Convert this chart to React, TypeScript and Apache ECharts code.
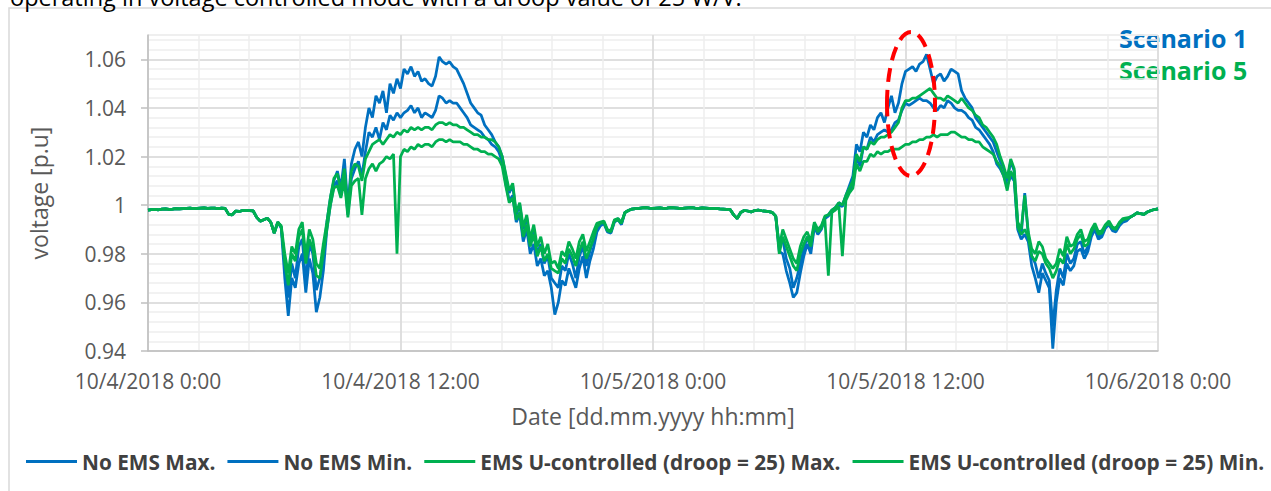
import React, { useEffect, useRef } from "react";
import * as echarts from "echarts";

// x grid: hours since 10/4/2018 0:00, sampled every 10 minutes (289 samples)
const HOURS: number[] = Array.from({ length: 289 }, (_, i) => i / 6);

const X_TICK_LABELS = ["10/4/2018 0:00", "10/4/2018 12:00", "10/5/2018 0:00", "10/5/2018 12:00", "10/6/2018 0:00"];

const SERIES_NAMES = [
  "No EMS Max.",
  "No EMS Min.",
  "EMS U-controlled (droop = 25) Max.",
  "EMS U-controlled (droop = 25) Min.",
];

// each line = 2 hours (12 samples)
const NO_EMS_MAX = [
  0.998, 0.9982, 0.9983, 0.9981, 0.9984, 0.9985, 0.9983, 0.9984, 0.9986, 0.9985, 0.9986, 0.9987,
  0.9988, 0.9986, 0.9987, 0.9988, 0.9989, 0.9987, 0.9988, 0.9988, 0.9986, 0.9988, 0.9987, 0.9962,
  0.996, 0.9976, 0.9974, 0.9978, 0.9979, 0.9977, 0.9976, 0.995, 0.9934, 0.994, 0.9946, 0.993,
  0.9885, 0.993, 0.991, 0.976, 0.962, 0.976, 0.97, 0.983, 0.986, 0.968, 0.984, 0.98,
  0.965, 0.97, 0.979, 0.993, 1.003, 1.01, 1.014, 1.007, 1.019, 0.999, 1.017, 1.023,
  1.026, 1.02, 1.032, 1.04, 1.036, 1.045, 1.042, 1.047, 1.038, 1.05, 1.046, 1.052,
  1.048, 1.056, 1.054, 1.057, 1.053, 1.055, 1.051, 1.052, 1.05, 1.049, 1.053, 1.061,
  1.059, 1.058, 1.059, 1.057, 1.056, 1.053, 1.05, 1.046, 1.042, 1.04, 1.038, 1.037,
  1.033, 1.031, 1.029, 1.026, 1.024, 1.02, 1.012, 1.005, 1.008, 0.996, 1.0, 0.99,
  0.995, 0.984, 0.99, 0.98, 0.984, 0.976, 0.979, 0.97, 0.968, 0.966, 0.975, 0.973,
  0.98, 0.976, 0.97, 0.979, 0.983, 0.975, 0.981, 0.986, 0.991, 0.9925, 0.993, 0.9895,
  0.989, 0.9935, 0.9945, 0.9925, 0.997, 0.9978, 0.9984, 0.9986, 0.9987, 0.9989, 0.999, 0.9988,
  0.9987, 0.9988, 0.9989, 0.9987, 0.9988, 0.999, 0.9989, 0.9988, 0.9986, 0.9988, 0.9989, 0.999,
  0.9988, 0.9987, 0.9989, 0.9988, 0.9987, 0.9986, 0.9987, 0.9985, 0.9984, 0.9983, 0.9982, 0.996,
  0.9945, 0.997, 0.9978, 0.9976, 0.9972, 0.9978, 0.998, 0.9977, 0.9975, 0.9973, 0.997, 0.9955,
  0.983, 0.986, 0.978, 0.974, 0.966, 0.97, 0.976, 0.982, 0.987, 0.982, 0.992, 0.989,
  0.991, 0.995, 0.996, 0.998, 0.999, 1.001, 1.0, 1.004, 1.008, 1.012, 1.025, 1.022,
  1.03, 1.028, 1.033, 1.031, 1.036, 1.038, 1.034, 1.04, 1.045, 1.038, 1.042, 1.05,
  1.055, 1.056, 1.057, 1.055, 1.058, 1.059, 1.062, 1.056, 1.05, 1.053, 1.054, 1.051,
  1.053, 1.056, 1.055, 1.054, 1.047, 1.044, 1.042, 1.04, 1.036, 1.034, 1.032, 1.03,
  1.028, 1.026, 1.022, 1.018, 1.015, 1.01, 1.018, 1.014, 0.992, 0.988, 1.005, 0.988,
  0.979, 0.976, 0.97, 0.976, 0.972, 0.969, 0.95, 0.965, 0.974, 0.97, 0.98, 0.976,
  0.978, 0.984, 0.985, 0.98, 0.983, 0.988, 0.991, 0.987, 0.988, 0.991, 0.9925, 0.99,
  0.9895, 0.992, 0.9935, 0.994, 0.995, 0.9958, 0.9968, 0.9965, 0.9962, 0.9972, 0.9978, 0.9982,
  0.9985,
];

const NO_EMS_MIN = [
  0.998, 0.9982, 0.9983, 0.9981, 0.9984, 0.9985, 0.9983, 0.9984, 0.9986, 0.9985, 0.9986, 0.9987,
  0.9988, 0.9986, 0.9987, 0.9988, 0.9989, 0.9987, 0.9988, 0.9988, 0.9986, 0.9988, 0.9987, 0.9962,
  0.996, 0.9976, 0.9974, 0.9978, 0.9979, 0.9977, 0.9976, 0.995, 0.9934, 0.994, 0.9946, 0.993,
  0.9885, 0.993, 0.9905, 0.97, 0.9545, 0.97, 0.966, 0.976, 0.98, 0.964, 0.978, 0.972,
  0.956, 0.962, 0.973, 0.99, 1.0, 1.008, 1.01, 1.004, 1.013, 0.996, 1.011, 1.015,
  1.018, 1.012, 1.022, 1.03, 1.028, 1.032, 1.027, 1.034, 1.031, 1.037, 1.035, 1.038,
  1.036, 1.038, 1.039, 1.041, 1.038, 1.04, 1.036, 1.038, 1.037, 1.036, 1.039, 1.045,
  1.044, 1.042, 1.043, 1.042, 1.042, 1.04, 1.038, 1.036, 1.033, 1.032, 1.031, 1.03,
  1.028, 1.027, 1.025, 1.024, 1.022, 1.018, 1.009, 1.002, 1.004, 0.993, 0.996, 0.985,
  0.99, 0.98, 0.984, 0.975, 0.978, 0.971, 0.973, 0.966, 0.955, 0.96, 0.969, 0.967,
  0.974, 0.97, 0.966, 0.974, 0.979, 0.97, 0.977, 0.982, 0.989, 0.9915, 0.9925, 0.989,
  0.9885, 0.993, 0.994, 0.992, 0.997, 0.9978, 0.9984, 0.9986, 0.9987, 0.9989, 0.999, 0.9988,
  0.9987, 0.9988, 0.9989, 0.9987, 0.9988, 0.999, 0.9989, 0.9988, 0.9986, 0.9988, 0.9989, 0.999,
  0.9988, 0.9987, 0.9989, 0.9988, 0.9987, 0.9986, 0.9987, 0.9985, 0.9984, 0.9983, 0.9982, 0.996,
  0.9945, 0.997, 0.9978, 0.9976, 0.9972, 0.9978, 0.998, 0.9977, 0.9975, 0.9973, 0.997, 0.9955,
  0.981, 0.98, 0.973, 0.968, 0.962, 0.964, 0.972, 0.979, 0.984, 0.98, 0.991, 0.988,
  0.99, 0.9945, 0.9955, 0.997, 0.9985, 1.0, 0.9995, 1.003, 1.006, 1.008, 1.02, 1.016,
  1.024, 1.023, 1.028, 1.026, 1.029, 1.03, 1.031, 1.03, 1.031, 1.034, 1.035, 1.039,
  1.042, 1.041, 1.042, 1.043, 1.044, 1.043, 1.043, 1.042, 1.04, 1.039, 1.041, 1.04,
  1.043, 1.042, 1.04, 1.039, 1.039, 1.038, 1.036, 1.035, 1.032, 1.031, 1.029, 1.027,
  1.025, 1.022, 1.017, 1.015, 1.012, 1.008, 1.012, 1.01, 0.99, 0.986, 0.988, 0.985,
  0.975, 0.97, 0.964, 0.972, 0.969, 0.966, 0.941, 0.96, 0.97, 0.967, 0.976, 0.973,
  0.975, 0.981, 0.982, 0.978, 0.981, 0.987, 0.99, 0.986, 0.987, 0.9905, 0.992, 0.9895,
  0.989, 0.9915, 0.993, 0.9935, 0.995, 0.9958, 0.9968, 0.9965, 0.9962, 0.9972, 0.9978, 0.9982,
  0.9985,
];

const EMS_MAX = [
  0.998, 0.9982, 0.9983, 0.9981, 0.9984, 0.9985, 0.9983, 0.9984, 0.9986, 0.9985, 0.9986, 0.9987,
  0.9988, 0.9986, 0.9987, 0.9988, 0.9989, 0.9987, 0.9988, 0.9988, 0.9986, 0.9988, 0.9987, 0.9962,
  0.996, 0.9976, 0.9974, 0.9978, 0.9979, 0.9977, 0.9976, 0.995, 0.9934, 0.994, 0.9946, 0.993,
  0.9885, 0.993, 0.9915, 0.98, 0.972, 0.983, 0.98, 0.99, 0.993, 0.979, 0.99, 0.986,
  0.976, 0.974, 0.984, 0.993, 1.003, 1.011, 1.013, 1.006, 1.015, 0.998, 1.014, 1.017,
  1.016, 1.01, 1.019, 1.022, 1.025, 1.026, 1.027, 1.025, 1.027, 1.029, 1.028, 1.03,
  1.029, 1.031, 1.03, 1.032, 1.031, 1.032, 1.031, 1.032, 1.032, 1.031, 1.033, 1.034,
  1.034, 1.033, 1.034, 1.033, 1.033, 1.032, 1.032, 1.031, 1.03, 1.029, 1.029, 1.028,
  1.028, 1.027, 1.027, 1.026, 1.024, 1.02, 1.013, 1.006, 1.009, 0.997, 1.001, 0.991,
  0.996, 0.986, 0.992, 0.983, 0.987, 0.98, 0.984, 0.976, 0.977, 0.974, 0.981, 0.979,
  0.985, 0.982, 0.978, 0.985, 0.988, 0.981, 0.985, 0.989, 0.9925, 0.993, 0.9935, 0.99,
  0.9895, 0.994, 0.9945, 0.993, 0.997, 0.9978, 0.9984, 0.9986, 0.9987, 0.9989, 0.999, 0.9988,
  0.9987, 0.9988, 0.9989, 0.9987, 0.9988, 0.999, 0.9989, 0.9988, 0.9986, 0.9988, 0.9989, 0.999,
  0.9988, 0.9987, 0.9989, 0.9988, 0.9987, 0.9986, 0.9987, 0.9985, 0.9984, 0.9983, 0.9982, 0.996,
  0.9945, 0.997, 0.9978, 0.9976, 0.9972, 0.9978, 0.998, 0.9977, 0.9975, 0.9973, 0.997, 0.9955,
  0.983, 0.99, 0.986, 0.982, 0.978, 0.976, 0.983, 0.987, 0.989, 0.985, 0.993, 0.99,
  0.9915, 0.9955, 0.996, 0.998, 0.999, 1.001, 1.0, 1.004, 1.007, 1.01, 1.021, 1.018,
  1.024, 1.023, 1.026, 1.025, 1.027, 1.028, 1.028, 1.029, 1.03, 1.032, 1.034, 1.04,
  1.043, 1.043, 1.044, 1.044, 1.045, 1.046, 1.047, 1.048, 1.046, 1.044, 1.044, 1.043,
  1.045, 1.044, 1.043, 1.042, 1.044, 1.042, 1.04, 1.039, 1.037, 1.036, 1.033, 1.032,
  1.03, 1.028, 1.025, 1.02, 1.016, 1.011, 1.019, 1.015, 0.993, 0.99, 1.004, 0.989,
  0.982, 0.98, 0.985, 0.983, 0.978, 0.976, 0.974, 0.976, 0.982, 0.979, 0.987, 0.983,
  0.984, 0.988, 0.99, 0.985, 0.986, 0.99, 0.9925, 0.989, 0.9895, 0.992, 0.9935, 0.991,
  0.9905, 0.993, 0.9945, 0.9948, 0.995, 0.9958, 0.9968, 0.9965, 0.9962, 0.9972, 0.9978, 0.9982,
  0.9985,
];

const EMS_MIN = [
  0.998, 0.9982, 0.9983, 0.9981, 0.9984, 0.9985, 0.9983, 0.9984, 0.9986, 0.9985, 0.9986, 0.9987,
  0.9988, 0.9986, 0.9987, 0.9988, 0.9989, 0.9987, 0.9988, 0.9988, 0.9986, 0.9988, 0.9987, 0.9962,
  0.996, 0.9976, 0.9974, 0.9978, 0.9979, 0.9977, 0.9976, 0.995, 0.9934, 0.994, 0.9946, 0.993,
  0.9885, 0.993, 0.991, 0.976, 0.967, 0.98, 0.977, 0.987, 0.99, 0.976, 0.986, 0.982,
  0.971, 0.97, 0.98, 0.99, 1.0, 1.007, 1.008, 1.003, 1.01, 0.995, 1.008, 1.01,
  1.011, 0.996, 1.011, 1.015, 1.017, 1.014, 1.017, 1.018, 1.02, 1.019, 1.021, 0.98,
  1.02, 1.023, 1.022, 1.024, 1.023, 1.025, 1.024, 1.025, 1.025, 1.024, 1.026, 1.027,
  1.027, 1.026, 1.027, 1.026, 1.026, 1.026, 1.025, 1.025, 1.024, 1.023, 1.023, 1.022,
  1.022, 1.021, 1.021, 1.02, 1.019, 1.016, 1.008, 1.001, 1.003, 0.994, 0.997, 0.987,
  0.992, 0.983, 0.988, 0.979, 0.983, 0.977, 0.98, 0.974, 0.973, 0.972, 0.978, 0.976,
  0.982, 0.979, 0.975, 0.981, 0.985, 0.978, 0.982, 0.986, 0.991, 0.9925, 0.993, 0.9895,
  0.989, 0.9935, 0.994, 0.9925, 0.997, 0.9978, 0.9984, 0.9986, 0.9987, 0.9989, 0.999, 0.9988,
  0.9987, 0.9988, 0.9989, 0.9987, 0.9988, 0.999, 0.9989, 0.9988, 0.9986, 0.9988, 0.9989, 0.999,
  0.9988, 0.9987, 0.9989, 0.9988, 0.9987, 0.9986, 0.9987, 0.9985, 0.9984, 0.9983, 0.9982, 0.996,
  0.9945, 0.997, 0.9978, 0.9976, 0.9972, 0.9978, 0.998, 0.9977, 0.9975, 0.9973, 0.997, 0.9955,
  0.98, 0.987, 0.983, 0.979, 0.975, 0.973, 0.98, 0.984, 0.987, 0.983, 0.992, 0.989,
  0.9905, 0.9945, 0.971, 0.997, 0.998, 0.9995, 0.979, 1.002, 1.005, 1.007, 1.017, 1.014,
  1.018, 1.018, 1.021, 1.02, 1.022, 1.021, 1.022, 1.022, 1.023, 1.023, 1.023, 1.024,
  1.025, 1.025, 1.026, 1.026, 1.027, 1.027, 1.028, 1.028, 1.029, 1.028, 1.029, 1.029,
  1.029, 1.03, 1.03, 1.029, 1.028, 1.028, 1.027, 1.027, 1.026, 1.026, 1.024, 1.023,
  1.022, 1.021, 1.018, 1.016, 1.012, 1.006, 1.014, 1.011, 0.991, 0.988, 0.99, 0.987,
  0.979, 0.977, 0.981, 0.98, 0.976, 0.974, 0.97, 0.973, 0.978, 0.976, 0.984, 0.98,
  0.982, 0.986, 0.988, 0.983, 0.984, 0.989, 0.9915, 0.988, 0.9885, 0.9915, 0.9925, 0.9905,
  0.99, 0.9925, 0.994, 0.9943, 0.995, 0.9958, 0.9968, 0.9965, 0.9962, 0.9972, 0.9978, 0.9982,
  0.9985,
];

const SERIES_VALUES = [NO_EMS_MAX, NO_EMS_MIN, EMS_MAX, EMS_MIN];
const BLUE = "#0070C0";
const GREEN = "#00B050";
const SERIES_COLORS = [BLUE, BLUE, GREEN, GREEN];

const FONT = "'Open Sans', 'Noto Sans', sans-serif";

export default function App() {
  const ref = useRef<HTMLDivElement>(null);

  useEffect(() => {
    if (!ref.current) return;
    const chart = echarts.init(ref.current, undefined, { renderer: "svg" });

    const series = SERIES_VALUES.map((vals, k) => ({
      name: SERIES_NAMES[k],
      type: "line",
      xAxisIndex: 1,
      yAxisIndex: 1,
      showSymbol: false,
      symbol: "none",
      data: HOURS.map((h, i) => [h, vals[i]]),
      lineStyle: { color: SERIES_COLORS[k], width: 2.75 },
      itemStyle: { color: SERIES_COLORS[k] },
      z: k < 2 ? 2 : 3,
    }));

    const option: any = {
      animation: false,
      backgroundColor: "#ffffff",
      textStyle: { fontFamily: FONT },
      grid: { left: 148, top: 35, width: 1010, height: 316, containLabel: false, outerBoundsMode: "none" },
      legend: {
        left: 26,
        top: 451,
        padding: 0,
        icon: "rect",
        itemWidth: 51,
        itemHeight: 3,
        itemGap: 12,
        data: SERIES_NAMES,
        textStyle: { fontFamily: FONT, fontWeight: "bold", fontSize: 20.8, color: "#404040" },
      },
      xAxis: [
        {
          type: "value",
          position: "bottom",
          min: 0,
          max: 48,
          interval: 2.4,
          axisLine: { show: false },
          axisTick: { show: false },
          axisLabel: { show: false },
          splitLine: { show: true, lineStyle: { color: "#eeeeee", width: 1.5 } },
        },
        {
          type: "value",
          position: "bottom",
          min: 0,
          max: 48,
          interval: 12,
          axisLine: { show: true, onZero: false, lineStyle: { color: "#bfbfbf", width: 1.5 } },
          axisTick: { show: false },
          axisLabel: {
            margin: 19,
            fontSize: 21,
            color: "#595959",
            fontFamily: FONT,
            formatter: (v: number) => X_TICK_LABELS[Math.round(v / 12)] ?? "",
          },
          splitLine: { show: true, lineStyle: { color: "#d9d9d9", width: 1.5 } },
          name: "Date [dd.mm.yyyy hh:mm]",
          nameLocation: "middle",
          nameGap: 53,
          nameTextStyle: { fontSize: 23, color: "#595959", fontFamily: FONT },
        },
      ],
      yAxis: [
        {
          type: "value",
          position: "left",
          min: 0.94,
          max: 1.07,
          interval: 0.004,
          axisLine: { show: false },
          axisTick: { show: false },
          axisLabel: { show: false },
          splitLine: { show: true, lineStyle: { color: "#eeeeee", width: 1.5 } },
        },
        {
          type: "value",
          position: "left",
          min: 0.94,
          max: 1.07,
          interval: 0.02,
          axisLine: { show: true, onZero: false, lineStyle: { color: "#bfbfbf", width: 1.5 } },
          axisTick: { show: true, length: 7, lineStyle: { color: "#bfbfbf", width: 1.5 } },
          axisLabel: {
            showMaxLabel: false,
            margin: 22,
            fontSize: 21,
            color: "#595959",
            fontFamily: FONT,
            formatter: (v: number) => String(Number(v.toFixed(2))),
          },
          splitLine: {
            show: true,
            lineStyle: {
              color: ["#d9d9d9", "#d9d9d9", "#d9d9d9", "#d9d9d9", "#d9d9d9", "#d9d9d9", "#d9d9d9", "#eeeeee"],
              width: 1.5,
            },
          },
          name: "voltage [p.u]",
          nameLocation: "middle",
          nameGap: 98,
          nameTextStyle: { fontSize: 23, color: "#595959", fontFamily: FONT },
        },
      ],
      series,
      graphic: [
        {
          type: "rect",
          z: 0,
          silent: true,
          shape: { x: 9, y: 8, width: 1300, height: 520 },
          style: { fill: "none", stroke: "#d9d9d9", lineWidth: 1.5 },
        },
        {
          type: "text",
          x: 10,
          y: -3,
          style: {
            text: "operating in voltage controlled mode with a droop value of 25 W/V.",
            fontFamily: FONT,
            fontSize: 23.5,
            fill: "#000000",
            textVerticalAlign: "middle",
          },
        },
        {
          type: "text",
          x: 1119,
          y: 38,
          style: {
            text: "Scenario 1",
            fontFamily: FONT,
            fontWeight: "bold",
            fontSize: 25,
            fill: BLUE,
            textVerticalAlign: "middle",
          },
        },
        {
          type: "text",
          x: 1119,
          y: 70,
          style: {
            text: "Scenario 5",
            fontFamily: FONT,
            fontWeight: "bold",
            fontSize: 25,
            fill: GREEN,
            textVerticalAlign: "middle",
          },
        },
        {
          type: "ellipse",
          z: 100,
          shape: { cx: 911, cy: 104, rx: 24, ry: 72 },
          style: { fill: "none", stroke: "#ff0000", lineWidth: 4, lineDash: [14, 8] },
        },
      ],
    };

    chart.setOption(option);
    return () => chart.dispose();
  }, []);

  return (
    <div
      ref={ref}
      style={{ position: "fixed", left: 0, top: 0, width: 1271, height: 491 }}
    />
  );
}
